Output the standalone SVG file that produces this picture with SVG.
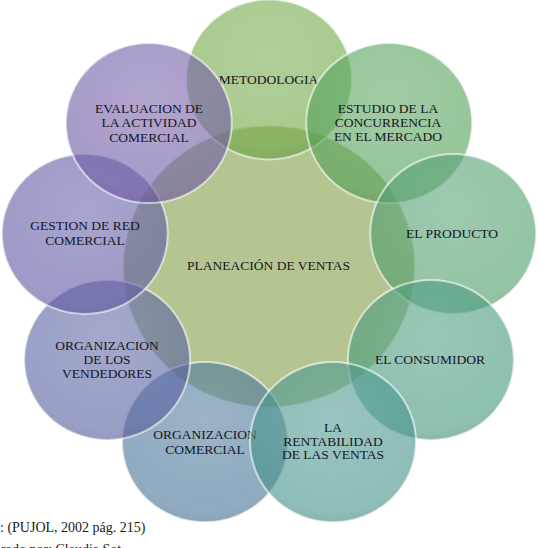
<svg xmlns="http://www.w3.org/2000/svg" width="539" height="548" viewBox="0 0 539 548">
<style>
.petal{fill-opacity:0.6;stroke:#ffffff;stroke-opacity:0.6;stroke-width:2}
.lbl{font-family:"Liberation Serif","Times New Roman",serif;font-size:13.5px;fill:#15151f;text-anchor:middle}
.src{font-family:"Liberation Serif","Times New Roman",serif;font-size:14px;fill:#1a1a1a}
</style>
<defs>
<radialGradient id="gloss" cx="0.5" cy="0.35" r="0.65">
<stop offset="0" stop-color="#ffffff" stop-opacity="0.10"/>
<stop offset="0.8" stop-color="#ffffff" stop-opacity="0"/>
<stop offset="1" stop-color="#000000" stop-opacity="0.05"/>
</radialGradient>
</defs>
<rect width="539" height="548" fill="#ffffff"/>
<g id="node-planeacion">
<ellipse cx="269" cy="266.4" rx="146" ry="141" fill="#b5c592" stroke="#ffffff" stroke-opacity="0.5" stroke-width="2"/>
<text class="lbl" x="268.5" y="269.5">PLANEACIÓN DE VENTAS</text>
</g>
<g id="node-metodologia">
<ellipse class="petal" cx="269" cy="79.4" rx="83" ry="80" fill="#6ea743"/>
<ellipse cx="269" cy="79.4" rx="83" ry="80" fill="url(#gloss)"/>
<text class="lbl" x="268.5" y="83.5">METODOLOGIA</text>
</g>
<g id="node-estudio">
<ellipse class="petal" cx="389.2" cy="123.1" rx="83" ry="80" fill="#52a057"/>
<ellipse cx="389.2" cy="123.1" rx="83" ry="80" fill="url(#gloss)"/>
<text class="lbl" x="388" y="113">ESTUDIO DE LA</text>
<text class="lbl" x="388" y="127">CONCURRENCIA</text>
<text class="lbl" x="388" y="141">EN EL MERCADO</text>
</g>
<g id="node-producto">
<ellipse class="petal" cx="453.2" cy="233.9" rx="83" ry="80" fill="#4d9d6b"/>
<ellipse cx="453.2" cy="233.9" rx="83" ry="80" fill="url(#gloss)"/>
<text class="lbl" x="452" y="238">EL PRODUCTO</text>
</g>
<g id="node-consumidor">
<ellipse class="petal" cx="430.9" cy="359.9" rx="83" ry="80" fill="#44987a"/>
<ellipse cx="430.9" cy="359.9" rx="83" ry="80" fill="url(#gloss)"/>
<text class="lbl" x="430" y="363.5">EL CONSUMIDOR</text>
</g>
<g id="node-org-comercial">
<ellipse class="petal" cx="205" cy="442.1" rx="83" ry="80" fill="#467396"/>
<ellipse cx="205" cy="442.1" rx="83" ry="80" fill="url(#gloss)"/>
<text class="lbl" x="205" y="439">ORGANIZACION</text>
<text class="lbl" x="205" y="453.5">COMERCIAL</text>
</g>
<g id="node-rentabilidad">
<ellipse class="petal" cx="333" cy="442.1" rx="83" ry="80" fill="#44938a"/>
<ellipse cx="333" cy="442.1" rx="83" ry="80" fill="url(#gloss)"/>
<text class="lbl" x="333" y="431.5">LA</text>
<text class="lbl" x="333" y="445.5">RENTABILIDAD</text>
<text class="lbl" x="333" y="459">DE LAS VENTAS</text>
</g>
<g id="node-org-vendedores">
<ellipse class="petal" cx="107.1" cy="359.9" rx="83" ry="80" fill="#575fa0"/>
<ellipse cx="107.1" cy="359.9" rx="83" ry="80" fill="url(#gloss)"/>
<text class="lbl" x="107" y="350">ORGANIZACION</text>
<text class="lbl" x="107" y="364">DE LOS</text>
<text class="lbl" x="107" y="378">VENDEDORES</text>
</g>
<g id="node-gestion">
<ellipse class="petal" cx="84.8" cy="233.9" rx="83" ry="80" fill="#5d58a3"/>
<ellipse cx="84.8" cy="233.9" rx="83" ry="80" fill="url(#gloss)"/>
<text class="lbl" x="85" y="230">GESTION DE RED</text>
<text class="lbl" x="85" y="244.5">COMERCIAL</text>
</g>
<g id="node-evaluacion">
<ellipse class="petal" cx="148.8" cy="123.1" rx="83" ry="80" fill="#7058a5"/>
<ellipse cx="148.8" cy="123.1" rx="83" ry="80" fill="url(#gloss)"/>
<text class="lbl" x="149" y="112.5">EVALUACION DE</text>
<text class="lbl" x="149" y="127">LA ACTIVIDAD</text>
<text class="lbl" x="149" y="141.5">COMERCIAL</text>
</g>
<g id="source">
<text class="src" x="0" y="532">: (PUJOL, 2002 pág. 215)</text>
<text class="src" x="-23" y="554">laborado por: Claudia Sot</text>
</g>
</svg>
